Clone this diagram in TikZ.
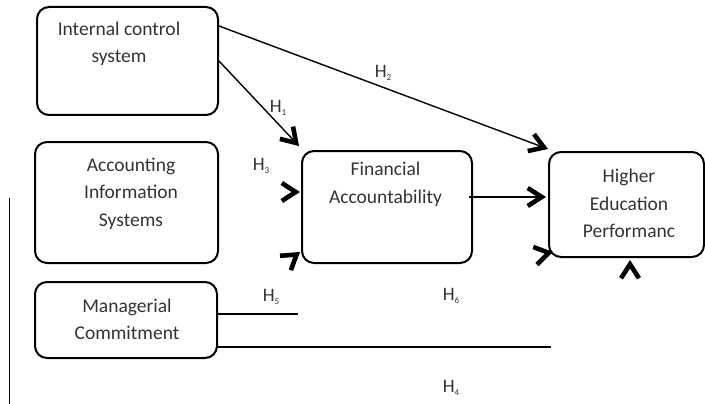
\documentclass[tikz,border=0pt]{standalone}
\usepackage{fontspec}
\setmainfont{Carlito}
\usetikzlibrary{arrows.meta,positioning}
\definecolor{inkgray}{HTML}{333333}
\tikzset{box/.style={draw,rounded corners=12pt,line width=2pt},
  txt/.style={align=center,text=inkgray,inner sep=0pt,font=\fontsize{19.5}{27.5}\selectfont},
  lbl/.style={text=inkgray,inner sep=0pt,font=\fontsize{19}{22}\selectfont},
  arr/.style={line width=1.4pt,-{Straight Barb[length=14pt,width=18pt,line width=4.6pt]}},
  plain/.style={line width=1.4pt}}
\newcommand{\hyp}[1]{H\raisebox{-2.5pt}{\fontsize{9}{9}\selectfont #1}}

\begin{document}
\begin{tikzpicture}[x=1pt,y=-1pt]
\useasboundingbox (0,0) rectangle (705,404);
% boxes
\node[box,minimum width=181pt,minimum height=108pt] (ics) at (127.5,61) {};
\node[box,minimum width=183pt,minimum height=121pt] (ais) at (126.5,202.5) {};
\node[box,minimum width=182pt,minimum height=76pt] (mc) at (126,320) {};
\node[box,minimum width=170pt,minimum height=112pt] (fa) at (387,207) {};
\node[box,minimum width=155pt,minimum height=105pt] (hep) at (626.5,204.5) {};
% texts
\node[txt] (icsT) at (119,44) {Internal control\\system};
\node[txt] (aisT) at (131,193.5) {Accounting\\Information\\Systems};
\node[txt] (mcT) at (127,319.5) {Managerial\\Commitment};
\node[txt] (faT) at (385.5,184.5) {Financial\\Accountability};
\node[txt] (hepT) at (629,203.5) {Higher\\Education\\Performanc};
% hypotheses
\node[lbl] (h1) at (278,108) {\hyp{1}};
\node[lbl] (h2) at (383,73) {\hyp{2}};
\node[lbl] (h3) at (261,166) {\hyp{3}};
\node[lbl] (h5) at (271,297) {\hyp{5}};
\node[lbl] (h6) at (451,296) {\hyp{6}};
\node[lbl] (h4) at (451,388) {\hyp{4}};
% connectors
\draw[arr] ([yshift=-20pt]ics.north east) -- ([yshift=2pt]hep.north west);
\draw[arr] (ics.east) -- ([shift={(-2pt,4pt)}]fa.north west);
\draw[arr] ([yshift=10pt,xshift=-4pt]fa.east) -- ([yshift=7.5pt,xshift=-2pt]hep.west);
\coordinate (h5end) at (298,314);
\coordinate (h4end) at (551,347);
\draw[plain] ([yshift=6pt]mc.east) -- (h5end);
\draw[plain] ([yshift=-27pt]mc.east) -- (h4end);
% loose arrowheads
\draw[arr] (300,192) ++(180:1pt) -- (300,192);
\draw[arr] (300,252) ++(217:1pt) -- (300,252);
\draw[arr] (553,252) ++(192:1pt) -- (553,252);
\draw[arr] (630,260) ++(270:1pt) -- (630,260);
% side rule
\draw[line width=1pt] (9,198) -- (9,404);
\end{tikzpicture}
\end{document}
